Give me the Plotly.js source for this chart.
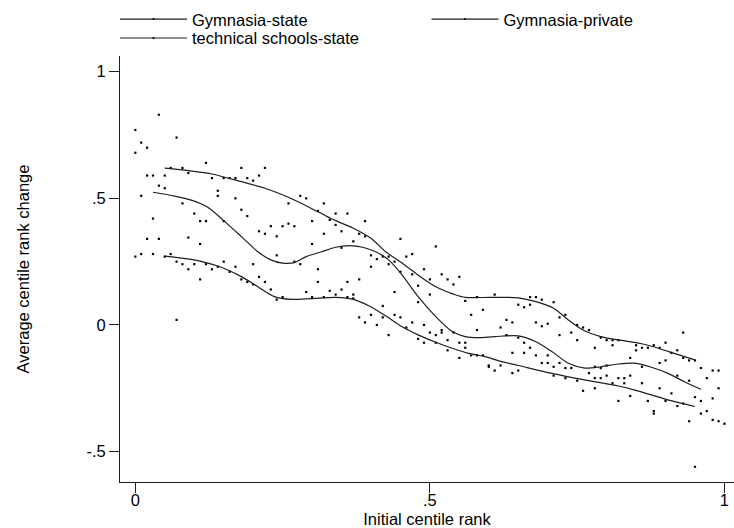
<!DOCTYPE html>
<html>
<head>
<meta charset="utf-8">
<script src="https://cdn.plot.ly/plotly-3.0.1.min.js"></script>
<style>html,body{margin:0;padding:0;background:#fff;}</style>
</head>
<body>
<div id="chart" style="width:734px;height:528px;"></div>
<script>
// ---- series names ----
var seriesNames = ["Gymnasia-state", "Gymnasia-private", "technical schools-state"];

// ---- scatter points (initial centile rank, average centile rank change) ----
var stateX = [0.00,0.01,0.02,0.03,0.04,0.05,0.06,0.07,0.08,0.09,0.12,0.13,0.14,0.15,0.16,0.17,0.18,0.19,0.20,0.21,0.22,0.26,0.28,0.29,0.30,0.31,0.32,0.33,0.34,0.35,0.36,0.37,0.38,0.39,0.40,0.41,0.42,0.43,0.44,0.45,0.46,0.47,0.48,0.49,0.50,0.51,0.52,0.53,0.54,0.55,0.56,0.58,0.61,0.65,0.66,0.67,0.68,0.69,0.71,0.72,0.73,0.75,0.76,0.77,0.79,0.80,0.81,0.82,0.85,0.86,0.87,0.88,0.89,0.90,0.91,0.92,0.93,0.94,0.95,0.96,0.98,0.99];
var stateY = [0.77,0.72,0.70,0.59,0.83,0.59,0.62,0.74,0.62,0.60,0.64,0.58,0.53,0.58,0.58,0.58,0.62,0.58,0.57,0.59,0.62,0.48,0.51,0.50,0.41,0.45,0.48,0.415,0.44,0.37,0.44,0.33,0.36,0.41,0.275,0.26,0.27,0.27,0.25,0.34,0.27,0.28,0.155,0.22,0.18,0.31,0.20,0.18,0.16,0.19,0.095,0.11,0.12,0.08,0.07,0.11,0.11,0.10,0.09,0.03,0.04,0.00,-0.01,-0.02,-0.05,-0.06,-0.06,-0.06,-0.08,-0.09,-0.09,-0.08,-0.09,-0.07,-0.11,-0.10,-0.03,-0.14,-0.14,-0.17,-0.18,-0.18];

var privateX = [0.00,0.01,0.02,0.03,0.04,0.05,0.08,0.09,0.10,0.11,0.12,0.14,0.15,0.17,0.18,0.19,0.20,0.21,0.22,0.23,0.24,0.25,0.26,0.27,0.28,0.30,0.31,0.32,0.34,0.35,0.36,0.37,0.38,0.39,0.40,0.42,0.43,0.44,0.45,0.47,0.48,0.49,0.50,0.51,0.52,0.53,0.54,0.55,0.56,0.57,0.58,0.59,0.60,0.62,0.63,0.64,0.65,0.66,0.67,0.68,0.69,0.70,0.71,0.72,0.73,0.74,0.75,0.78,0.79,0.80,0.81,0.82,0.83,0.84,0.85,0.86,0.88,0.89,0.90,0.92,0.93,0.94,0.95,0.96,0.97,0.98,0.99];
var privateY = [0.68,0.51,0.59,0.42,0.55,0.54,0.48,0.345,0.44,0.41,0.41,0.51,0.41,0.50,0.455,0.43,0.24,0.37,0.36,0.39,0.35,0.39,0.40,0.39,0.24,0.32,0.22,0.36,0.395,0.305,0.17,0.12,0.18,0.35,0.23,0.075,0.24,0.13,0.21,0.20,0.09,0.00,0.12,-0.04,-0.03,-0.06,-0.03,-0.07,-0.07,0.04,-0.02,0.06,-0.16,-0.01,0.02,0.01,-0.05,-0.07,0.08,0.01,-0.005,0.005,-0.165,-0.04,-0.17,-0.03,-0.06,-0.09,-0.17,-0.16,-0.08,-0.21,-0.21,-0.13,-0.10,-0.165,-0.34,-0.15,-0.14,-0.20,-0.13,-0.22,-0.285,-0.30,-0.21,-0.29,-0.25];

var technicalX = [0.00,0.01,0.02,0.03,0.04,0.05,0.06,0.07,0.07,0.08,0.09,0.10,0.11,0.11,0.12,0.13,0.14,0.15,0.16,0.17,0.18,0.19,0.20,0.21,0.22,0.23,0.24,0.24,0.25,0.27,0.29,0.30,0.31,0.32,0.33,0.34,0.35,0.36,0.37,0.38,0.39,0.40,0.41,0.42,0.43,0.44,0.45,0.46,0.47,0.48,0.49,0.50,0.51,0.52,0.53,0.55,0.56,0.57,0.58,0.59,0.60,0.61,0.62,0.63,0.64,0.64,0.65,0.66,0.67,0.68,0.69,0.70,0.70,0.71,0.72,0.73,0.74,0.75,0.76,0.77,0.78,0.78,0.78,0.79,0.80,0.81,0.82,0.83,0.84,0.84,0.86,0.87,0.88,0.89,0.90,0.91,0.92,0.93,0.94,0.95,0.96,0.97,0.98,0.99,1.00];
var technicalY = [0.27,0.28,0.34,0.28,0.34,0.27,0.28,0.25,0.02,0.24,0.22,0.24,0.32,0.18,0.24,0.22,0.23,0.25,0.21,0.23,0.18,0.17,0.16,0.19,0.17,0.14,0.275,0.10,0.11,0.25,0.13,0.11,0.17,0.11,0.135,0.12,0.14,0.11,0.105,0.03,0.01,0.04,0.00,0.03,-0.04,0.04,0.03,-0.01,0.01,-0.055,-0.07,-0.03,-0.07,-0.02,-0.10,-0.13,-0.09,-0.12,-0.12,-0.12,-0.165,-0.18,-0.16,-0.04,-0.11,-0.19,-0.18,-0.11,-0.09,-0.12,-0.15,-0.12,-0.15,-0.20,-0.15,-0.21,-0.17,-0.22,-0.26,-0.19,-0.165,-0.21,-0.25,-0.21,-0.20,-0.23,-0.30,-0.23,-0.20,-0.28,-0.23,-0.30,-0.35,-0.25,-0.30,-0.27,-0.32,-0.31,-0.38,-0.56,-0.35,-0.34,-0.375,-0.38,-0.39];

// ---- smoothed (lowess) curves ----
var stateFitX = [0.05,0.08,0.13,0.18,0.22,0.26,0.31,0.34,0.37,0.40,0.425,0.453,0.48,0.51,0.54,0.56,0.605,0.65,0.68,0.71,0.735,0.76,0.79,0.82,0.85,0.875,0.905,0.95];
var stateFitY = [0.619,0.612,0.596,0.566,0.54,0.504,0.447,0.412,0.382,0.342,0.289,0.244,0.197,0.151,0.122,0.109,0.109,0.107,0.092,0.066,0.02,-0.02,-0.046,-0.059,-0.07,-0.083,-0.105,-0.138];

var privateFitX = [0.03,0.067,0.095,0.123,0.15,0.18,0.208,0.23,0.25,0.27,0.29,0.315,0.34,0.363,0.386,0.408,0.43,0.453,0.48,0.51,0.538,0.56,0.583,0.61,0.65,0.68,0.707,0.735,0.763,0.79,0.82,0.848,0.876,0.904,0.932,0.96];
var privateFitY = [0.524,0.509,0.493,0.465,0.412,0.349,0.289,0.257,0.244,0.246,0.27,0.288,0.307,0.313,0.307,0.289,0.257,0.197,0.112,0.033,-0.026,-0.046,-0.05,-0.046,-0.043,-0.066,-0.105,-0.151,-0.17,-0.165,-0.154,-0.151,-0.167,-0.191,-0.224,-0.254];

var technicalFitX = [0.05,0.095,0.123,0.15,0.18,0.208,0.236,0.265,0.298,0.34,0.37,0.397,0.425,0.453,0.48,0.51,0.538,0.566,0.594,0.622,0.65,0.707,0.763,0.82,0.848,0.876,0.904,0.95];
var technicalFitY = [0.272,0.259,0.244,0.224,0.191,0.151,0.112,0.101,0.104,0.109,0.101,0.075,0.036,-0.007,-0.039,-0.068,-0.092,-0.112,-0.125,-0.145,-0.16,-0.191,-0.217,-0.241,-0.257,-0.276,-0.296,-0.322];

// ---- ticks ----
var xTickVals = [0, 0.5, 1];
var xTickText = ["0", ".5", "1"];
var yTickVals = [-0.5, 0, 0.5, 1];
var yTickText = ["-.5", "0", ".5", "1"];

var FONT = "Liberation Sans, Arial, sans-serif";
var INK = "#1e1e1e";

function pts(x, y) {
  return {x: x, y: y, type: "scatter", mode: "markers", showlegend: false,
          hoverinfo: "skip", cliponaxis: false,
          marker: {size: 2.2, color: "#000", symbol: "square"}};
}
function fit(x, y) {
  return {x: x, y: y, type: "scatter", mode: "lines", showlegend: false,
          hoverinfo: "skip",
          line: {color: INK, width: 1.2, shape: "spline", smoothing: 0.8}};
}
function key(name, legendId) {
  return {x: [null], y: [null], type: "scatter", mode: "lines+markers", name: name,
          legend: legendId,
          line: {color: INK, width: 1.2}, marker: {size: 2, color: "#000"}};
}

var data = [
  pts(stateX, stateY), pts(privateX, privateY), pts(technicalX, technicalY),
  fit(stateFitX, stateFitY), fit(privateFitX, privateFitY), fit(technicalFitX, technicalFitY),
  key(seriesNames[0], "legend"), key(seriesNames[1], "legend2"), key(seriesNames[2], "legend3")
];

function legendBox(x, y, size) {
  return {
    orientation: "v", x: x, xanchor: "left", y: y, yanchor: "top",
    itemwidth: 67,
    font: {family: FONT, size: size, color: "#000"},
    bgcolor: "rgba(0,0,0,0)", borderwidth: 0
  };
}

var layout = {
  width: 734, height: 528,
  margin: {l: 120, r: 0, t: 56, b: 46, pad: 0},
  paper_bgcolor: "#fff", plot_bgcolor: "#fff",
  font: {family: FONT, size: 16.5, color: "#000"},
  showlegend: true,
  legend: legendBox(-0.0081, 1.127, 16.5),
  legend2: legendBox(0.4992, 1.127, 16.5),
  legend3: legendBox(-0.0081, 1.0827, 16.5),
  xaxis: {
    range: [-0.026, 1.0162], showgrid: false, zeroline: false,
    showline: true, linecolor: INK, linewidth: 1,
    ticks: "outside", ticklen: 10, tickwidth: 1, tickcolor: INK,
    tickvals: xTickVals, ticktext: xTickText, ticklabelstandoff: -7,
    tickfont: {family: FONT, size: 16.5, color: "#000"},
    title: {text: "Initial centile rank", font: {family: FONT, size: 16.5, color: "#000"}, standoff: 9},
    automargin: false
  },
  yaxis: {
    range: [-0.62, 1.062], showgrid: false, zeroline: false,
    showline: true, linecolor: INK, linewidth: 1,
    ticks: "outside", ticklen: 10, tickwidth: 1, tickcolor: INK,
    tickvals: yTickVals, ticktext: yTickText,
    tickfont: {family: FONT, size: 16.5, color: "#000"},
    title: {text: "Average centile rank change", font: {family: FONT, size: 16.5, color: "#000"}, standoff: 52},
    automargin: false
  }
};

Plotly.newPlot("chart", data, layout, {displayModeBar: false, staticPlot: true});
</script>
</body>
</html>
